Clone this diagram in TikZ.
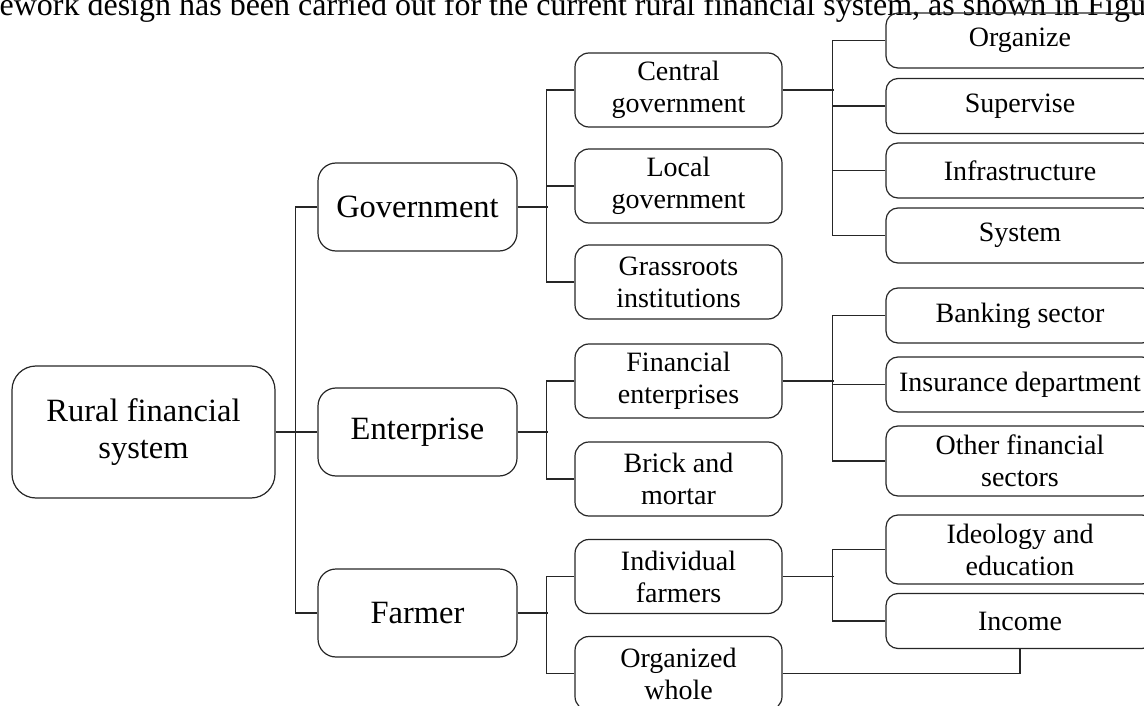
\documentclass[tikz,border=0pt]{standalone}
\usepackage{fontspec}
\setmainfont{Liberation Serif}

\begin{document}
\begin{tikzpicture}[x=1pt, y=-1pt, line width=1.2pt, draw=black!85,
  box/.style={draw=black!85, align=center, inner sep=0pt, font=\fontsize{28}{32}\selectfont},
  rootbox/.style={box, rounded corners=24pt, minimum width=263pt, minimum height=132pt, font=\fontsize{32.5}{37}\selectfont},
  lvlone/.style={box, rounded corners=18pt, minimum width=199pt, minimum height=88pt, font=\fontsize{32.5}{37}\selectfont},
  lvltwo/.style={box, rounded corners=14pt, minimum width=207pt, minimum height=74pt},
  lvlthree/.style={box, rounded corners=12pt, minimum width=268pt, minimum height=55pt}]
  \useasboundingbox (0,0) rectangle (1144,706);
  \clip (0,0) rectangle (1144,706);
  \node[anchor=base west, inner sep=0pt, font=\fontsize{32}{36}\selectfont] (body) at (-1,16) {ework design has been carried out for the current rural financial system, as shown in Figure};

  \node[rootbox] (root) at (143.5,432) {Rural financial\\system};
  \node[lvlone] (gov) at (417.5,207) {Government};
  \node[lvlone] (ent) at (417.5,432) {Enterprise};
  \node[lvlone] (far) at (417.5,613) {Farmer};

  \node[lvltwo] (cen) at (678.5,90) {Central\\government};
  \node[lvltwo] (loc) at (678.5,186) {Local\\government};
  \node[lvltwo] (gra) at (678.5,282) {Grassroots\\institutions};
  \node[lvltwo] (fin) at (678.5,381) {Financial\\enterprises};
  \node[lvltwo] (bri) at (678.5,479) {Brick and\\mortar};
  \node[lvltwo] (ind) at (678.5,576.5) {Individual\\farmers};
  \node[lvltwo] (whole) at (678.5,673.5) {Organized\\whole};

  \node[lvlthree] (org) at (1020,40.5) {Organize};
  \node[lvlthree] (sup) at (1020,106) {Supervise};
  \node[lvlthree] (inf) at (1020,170.5) {Infrastructure};
  \node[lvlthree] (sys) at (1020,235.5) {System};
  \node[lvlthree] (ban) at (1020,315.5) {Banking sector};
  \node[lvlthree] (ins) at (1020,384.5) {Insurance department};
  \node[lvlthree, minimum height=70pt] (oth) at (1020,461) {Other financial\\sectors};
  \node[lvlthree, minimum height=69pt] (ide) at (1020,549.5) {Ideology and\\education};
  \node[lvlthree] (inc) at (1020,621) {Income};

  \draw (root.east) -- (ent.west);
  \draw (gov.west) -- ++(-22,0) |- (far.west);

  \draw (gov.east) -- ++(30,0);
  \draw (cen.west) -- ++(-28,0) |- (gra.west);
  \draw (loc.west) -- ++(-28,0);
  \draw (ent.east) -- ++(30,0);
  \draw (fin.west) -- ++(-28,0) |- (bri.west);
  \draw (far.east) -- ++(30,0);
  \draw (ind.west) -- ++(-28,0) |- (whole.west);

  \draw (cen.east) -- ++(51,0);
  \draw (org.west) -- ++(-53,0) |- (sys.west);
  \draw (sup.west) -- ++(-53,0);
  \draw (inf.west) -- ++(-53,0);
  \draw (fin.east) -- ++(51,0);
  \draw (ban.west) -- ++(-53,0) |- (oth.west);
  \draw (ins.west) -- ++(-53,0);
  \draw (ind.east) -- ++(51,0);
  \draw (ide.west) -- ++(-53,0) |- (inc.west);
  \draw (whole.east) -| (inc.south);
\end{tikzpicture}
\end{document}
